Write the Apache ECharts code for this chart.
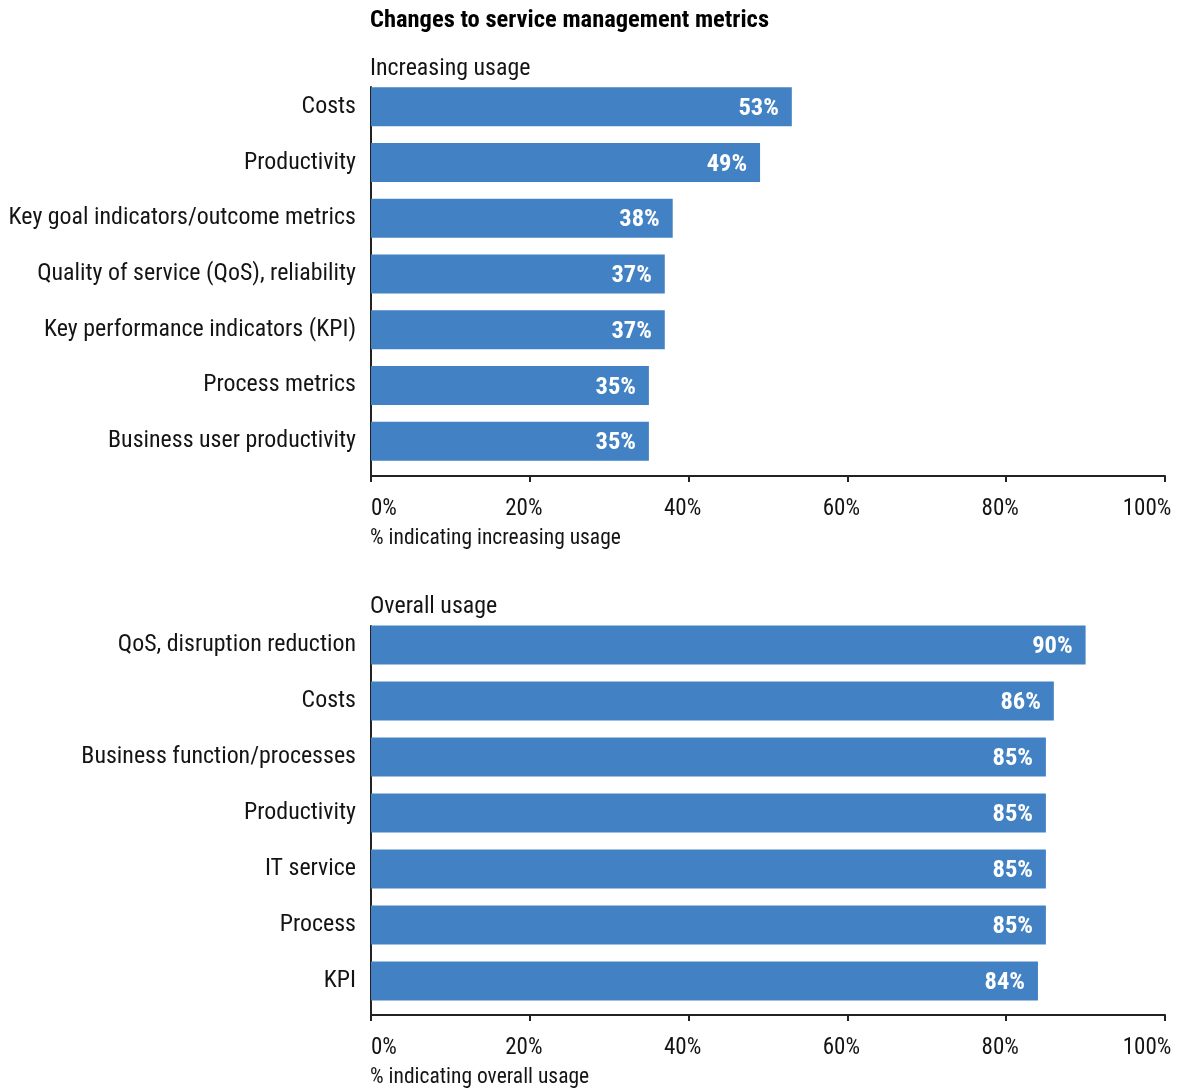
<!DOCTYPE html>
<html>
<head>
<meta charset="utf-8">
<script src="https://cdn.jsdelivr.net/npm/echarts@6/dist/echarts.min.js"></script>
<style>
html,body{margin:0;padding:0;background:#fff;}
#main{width:1183px;height:1088px;}
</style>
</head>
<body>
<div id="main"></div>
<script>
var chartTitle = 'Changes to service management metrics';
var topTitle = 'Increasing usage';
var bottomTitle = 'Overall usage';
var topAxisName = '% indicating increasing usage';
var bottomAxisName = '% indicating overall usage';
var topCategories = ['Costs','Productivity','Key goal indicators/outcome metrics','Quality of service (QoS), reliability','Key performance indicators (KPI)','Process metrics','Business user productivity'];
var topValues = [53,49,38,37,37,35,35];
var bottomCategories = ['QoS, disruption reduction','Costs','Business function/processes','Productivity','IT service','Process','KPI'];
var bottomValues = [90,86,85,85,85,85,84];
var tickMin = 0, tickMax = 100, tickStep = 20;

var FONT = '"Roboto Condensed", "Liberation Sans", Arial, sans-serif';
var TXT = '#141414';
var BAR = '#4282c4';
var AXIS = '#222222';
var TICK_FS = 23;

function tickToken(pad) {
  return {fontFamily: FONT, fontSize: TICK_FS, color: TXT, padding: pad};
}
function xAx(gridIndex, offset) {
  return {
    type: 'value', gridIndex: gridIndex, min: tickMin, max: tickMax, interval: tickStep,
    offset: offset,
    axisLine: {show: true, lineStyle: {color: AXIS, width: 2}},
    axisTick: {show: true, length: 6, lineStyle: {color: AXIS, width: 2}},
    splitLine: {show: false},
    axisLabel: {
      show: true, fontFamily: FONT, fontSize: TICK_FS, color: TXT, margin: 22,
      formatter: function (v) {
        if (v === tickMin) return '{s|' + v + '%}';
        if (v === tickMax) return '{e|' + v + '%}';
        return '{m|' + v + '%}';
      },
      rich: {
        s: tickToken([0, 0, 0, 0]),
        m: tickToken([0, 12, 0, 0]),
        e: tickToken([0, 36, 0, 0])
      },
      alignMinLabel: 'left'
    }
  };
}
function yAx(gridIndex, cats) {
  return {
    type: 'category', gridIndex: gridIndex, data: cats, inverse: true,
    axisLine: {show: false}, axisTick: {show: false},
    axisLabel: {fontFamily: FONT, fontSize: 23.9, color: TXT, margin: 15, padding: [3, 0, 0, 0]}
  };
}
function lineX(gridIndex) {
  return {type: 'value', gridIndex: gridIndex, show: false, min: 0, max: 1};
}
function lineY(gridIndex) {
  return {type: 'value', gridIndex: gridIndex, min: 0, max: 1,
    axisLine: {show: true, lineStyle: {color: AXIS, width: 2}},
    axisTick: {show: false}, axisLabel: {show: false}, splitLine: {show: false}};
}
function barSeries(idx, vals) {
  return {
    type: 'bar', xAxisIndex: idx, yAxisIndex: idx, data: vals, barWidth: 39,
    itemStyle: {color: BAR},
    label: {show: true, position: 'insideRight', distance: 13, offset: [0, 2], color: '#fff',
      fontFamily: FONT, fontSize: 24.5, fontWeight: 'bold',
      formatter: function (p) { return p.value + '%'; }}
  };
}

var chart = echarts.init(document.getElementById('main'), null, {renderer: 'canvas'});
chart.setOption({
  animation: false,
  backgroundColor: '#ffffff',
  title: [
    {text: chartTitle, left: 370, top: 8, padding: 0, textStyle: {fontFamily: FONT, fontSize: 24.5, fontWeight: 'bold', color: '#000'}},
    {text: topTitle, left: 370, top: 57, padding: 0, textStyle: {fontFamily: FONT, fontSize: 23.9, fontWeight: 'normal', color: TXT}},
    {text: topAxisName, left: 370, top: 528, padding: 0, textStyle: {fontFamily: FONT, fontSize: 21.5, fontWeight: 'normal', color: TXT}},
    {text: bottomTitle, left: 370, top: 595, padding: 0, textStyle: {fontFamily: FONT, fontSize: 23.9, fontWeight: 'normal', color: TXT}},
    {text: bottomAxisName, left: 370, top: 1067, padding: 0, textStyle: {fontFamily: FONT, fontSize: 21.5, fontWeight: 'normal', color: TXT}}
  ],
  grid: [
    {left: 371, right: 18, top: 79, height: 390},
    {left: 371, right: 18, top: 617, height: 392},
    {left: 371, width: 10, top: 87, height: 389},
    {left: 371, width: 10, top: 626, height: 389}
  ],
  xAxis: [xAx(0, 7), xAx(1, 6), lineX(2), lineX(3)],
  yAxis: [yAx(0, topCategories), yAx(1, bottomCategories), lineY(2), lineY(3)],
  series: [barSeries(0, topValues), barSeries(1, bottomValues)]
});
</script>
</body>
</html>
